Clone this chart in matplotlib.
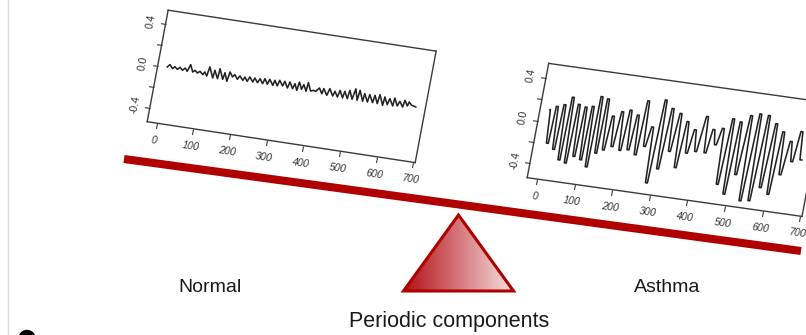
import numpy as np
import matplotlib.pyplot as plt
from matplotlib.transforms import Affine2D
from matplotlib.patches import Polygon, Circle
import mpl_toolkits.axisartist.floating_axes as floating_axes
from mpl_toolkits.axisartist.grid_finder import FixedLocator, DictFormatter

plt.rcParams['font.family'] = ['Liberation Sans', 'DejaVu Sans']

W, H = 806, 335

# normal breathing signal (time index, amplitude)
normal_t = [0, 6, 15, 20, 28, 34, 42, 48, 55, 61, 70, 75, 83, 89, 98, 102, 109, 113, 126, 128,
            139, 141, 153, 156, 165, 169, 178, 183, 192, 197, 207, 211, 219, 224, 234, 238, 247, 252,
            261, 265, 274, 278, 289, 292, 301, 305, 315, 319, 329, 333, 343, 347, 355, 358, 367, 371,
            380, 382, 392, 399, 406, 414, 423, 426, 437, 442, 453, 457, 466, 470, 480, 483, 493, 496,
            506, 511, 520, 523, 535, 537, 548, 551, 562, 565, 575, 578, 590, 592, 602, 606, 617, 619,
            629, 634, 644, 647, 656, 659, 667, 679]
normal_v = [0.004, 0.030, -0.004, 0.018, -0.004, 0.019, -0.005, 0.020, -0.008, 0.059, -0.007, 0.012,
            -0.009, 0.010, -0.017, 0.011, -0.024, 0.065, -0.034, 0.041, -0.034, 0.063, -0.032, 0.033,
            -0.045, 0.047, 0.004, 0.029, -0.011, 0.024, -0.013, 0.021, -0.016, 0.029, -0.014, 0.026,
            -0.014, 0.027, -0.016, 0.034, -0.015, 0.035, -0.017, 0.033, -0.016, 0.040, -0.009, 0.038,
            -0.021, 0.039, -0.020, 0.030, -0.030, 0.052, -0.013, 0.034, -0.025, 0.059, -0.016, -0.006,
            -0.011, 0.025, -0.025, 0.025, -0.033, 0.034, -0.031, 0.016, -0.034, 0.032, -0.035, 0.030,
            -0.035, 0.047, -0.034, 0.069, -0.036, 0.061, -0.038, 0.037, -0.038, 0.035, -0.036, 0.036,
            -0.039, 0.049, -0.047, 0.034, -0.034, 0.026, -0.039, 0.039, -0.032, 0.015, -0.034, 0.032,
            -0.018, 0.022, -0.005, -0.015]

# asthma breathing signal (time index, amplitude): each cycle has a flat-ish crest and trough
asthma_t = [0, 1, 7, 12, 15, 20, 26, 31, 34, 39, 45, 50, 52, 57, 63, 68,
            71, 76, 82, 87, 90, 95, 101, 106, 108, 113, 119, 124, 126, 131, 137, 142,
            144, 149, 155, 160, 165, 170, 176, 181, 187, 192, 198, 203, 208, 213, 219, 224,
            229, 234, 240, 245, 249, 254, 260, 265, 272, 277, 283, 288, 294, 299, 305, 310,
            316, 321, 327, 332, 339, 344, 350, 355, 361, 366, 372, 377, 384, 389, 395, 400,
            409, 414, 420, 425, 432, 437, 443, 448, 456, 461, 467, 472, 478, 483, 489, 494,
            499, 504, 510, 515, 523, 528, 534, 539, 546, 551, 557, 562, 569, 574, 580, 585,
            592, 597, 603, 608, 614, 619, 625, 630, 638, 643, 649, 654, 661, 666, 672, 677]
asthma_v = [0.115, 0.115, -0.195, -0.195, 0.153, 0.153, -0.242, -0.242,
            0.179, 0.179, -0.332, -0.332, 0.257, 0.257, -0.352, -0.352,
            0.200, 0.200, -0.281, -0.281, 0.184, 0.184, -0.303, -0.303,
            0.200, 0.200, -0.360, -0.360, 0.300, 0.300, -0.223, -0.223,
            0.287, 0.287, -0.184, -0.184, 0.137, 0.137, -0.142, -0.142,
            0.189, 0.189, -0.167, -0.167, 0.214, 0.214, -0.151, -0.151,
            0.178, 0.178, -0.187, -0.187, 0.321, 0.321, -0.099, -0.099,
            0.088, 0.088, -0.429, -0.429, 0.352, 0.352, -0.287, -0.287,
            0.283, 0.283, -0.112, -0.112, 0.248, 0.248, -0.253, -0.253,
            0.183, 0.183, -0.106, -0.106, 0.118, 0.118, -0.080, -0.080,
            0.254, 0.254, -0.080, -0.080, 0.144, 0.144, 0.007, 0.007,
            0.166, 0.166, -0.351, -0.351, 0.267, 0.267, -0.432, -0.432,
            0.248, 0.248, -0.239, -0.239, 0.319, 0.319, -0.472, -0.472,
            0.346, 0.346, -0.460, -0.460, 0.343, 0.343, -0.326, -0.326,
            0.277, 0.277, -0.377, -0.377, 0.212, 0.212, -0.183, -0.183,
            0.134, 0.134, -0.049, -0.049, 0.238, 0.238, -0.021, -0.021]

x_ticks = [0, 100, 200, 300, 400, 500, 600, 700]
y_ticks = [-0.4, -0.2, 0.0, 0.2, 0.4]
y_tick_labels = {-0.4: "-0.4", -0.2: "", 0.0: "0.0", 0.2: "", 0.4: "0.4"}
x_lim = (-26, 705)
y_lim = (-0.535, 0.535)

panel_labels = ["Normal", "Asthma"]
pivot_label = "Periodic components"

fig = plt.figure(figsize=(W / 100, H / 100), dpi=100)
bg = fig.add_axes([0, 0, 1, 1])
bg.set_xlim(0, W)
bg.set_ylim(H, 0)
bg.axis('off')


def tilted_panel(origin, ex, ey, t, v):
    # origin/ex/ey are in screen pixels with y pointing down
    tr = Affine2D.from_values(ex[0], -ex[1], ey[0], -ey[1], origin[0], H - origin[1])
    helper = floating_axes.GridHelperCurveLinear(
        tr, (x_lim[0], x_lim[1], y_lim[0], y_lim[1]),
        grid_locator1=FixedLocator(x_ticks),
        grid_locator2=FixedLocator(y_ticks),
        tick_formatter1=DictFormatter({k: str(k) for k in x_ticks}),
        tick_formatter2=DictFormatter(y_tick_labels))
    corners = tr.transform([(x_lim[0], y_lim[0]), (x_lim[1], y_lim[0]),
                            (x_lim[1], y_lim[1]), (x_lim[0], y_lim[1])])
    x0, y0 = corners.min(axis=0)
    x1, y1 = corners.max(axis=0)
    cx, cy = (x0 + x1) / 2, (y0 + y1) / 2
    w, h = (x1 - x0) * 1.02, (y1 - y0) * 1.02
    ax = fig.add_axes([(cx - w / 2) / W, (cy - h / 2) / H, w / W, h / H],
                      axes_class=floating_axes.FloatingAxes, grid_helper=helper)
    for side in ["top", "right"]:
        ax.axis[side].toggle(ticks=False, ticklabels=False)
    for side in ["top", "right", "bottom", "left"]:
        ax.axis[side].line.set_linewidth(1.0)
        ax.axis[side].line.set_color('#3a3a3a')
    for side in ["bottom", "left"]:
        ax.axis[side].major_ticks.set_tick_out(True)
        ax.axis[side].major_ticks.set_ticksize(4)
        ax.axis[side].major_ticks.set_color('#3a3a3a')
        ax.axis[side].major_ticklabels.set_fontsize(7.5)
        ax.axis[side].major_ticklabels.set_color('#333333')
    ax.axis["bottom"].major_ticklabels.set_pad(5)
    ax.axis["bottom"].major_ticklabels.set_fontstyle('italic')
    # y labels run along the axis, centred on their ticks
    ax.axis["left"].major_ticklabels.set_rotation(180)
    ax.axis["left"].major_ticklabels.set_ha('center')
    ax.axis["left"].major_ticklabels.set_va('center')
    ax.axis["left"].major_ticklabels.set_pad(0.5)
    aux = ax.get_aux_axes(tr)
    aux.plot(t, v, color='#222222', lw=1.15)
    return ax


tilted_panel((167.2, 67.4), (0.3666, 0.056), (19.6, -104.2), normal_t, normal_v)
tilted_panel((547.7, 121.9), (0.376, 0.053), (20.1, -106.8), asthma_t, asthma_v)

# seesaw beam
bg.plot([124, 801], [159, 251], color='#b00000', lw=5.8, solid_capstyle='butt', zorder=2)

# pivot triangle with a red-to-pale gradient
tri = np.array([[458.5, 215], [403.5, 291], [513.5, 291]])
grad = np.linspace(0, 1, 256)
dark = np.array([0.70, 0.06, 0.09])
light = np.array([0.97, 0.88, 0.88])
img = dark[None, None, :] * (1 - grad[None, :, None]) + light[None, None, :] * grad[None, :, None]
im = bg.imshow(img, extent=(403.5, 513.5, 291, 215), aspect='auto', zorder=3)
edge = Polygon(tri, closed=True, facecolor='none', edgecolor='#b00000', lw=2.2, joinstyle='miter', zorder=4)
bg.add_patch(edge)
im.set_clip_path(edge)

bg.axvline(7.5, color='#dddddd', lw=1)
bg.add_patch(Circle((27, 338.5), 8, color='black'))

text_kw = dict(ha='center', va='center', color='#1a1a1a', fontsize=14)
bg.text(210, 288, panel_labels[0], **text_kw)
bg.text(667, 288, panel_labels[1], **text_kw)
bg.text(449, 321, pivot_label, **{**text_kw, 'fontsize': 15.5})

fig.savefig('out.png', dpi=100)
